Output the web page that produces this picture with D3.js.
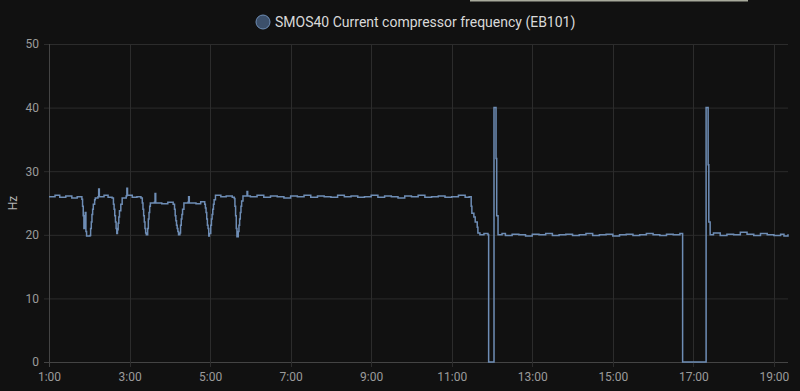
<!DOCTYPE html>
<html>
<head>
<meta charset="utf-8">
<script src="https://cdn.jsdelivr.net/npm/d3@7"></script>
<style>
  html, body { margin: 0; padding: 0; background: #111111; }
  svg { display: block; font-family: Roboto, "Noto Sans", sans-serif; }
</style>
</head>
<body>
<svg id="chart" width="800" height="391"></svg>
<script>
// series: SMOS40 compressor frequency
const seriesName = 'SMOS40 Current compressor frequency (EB101)';
const unit = 'Hz';

// one line per stretch of the chart, times and values kept line for line
const times = [
  '1:00', '1:09', '1:16', '1:25', '1:34', '1:42',
  '1:49', '1:50', '1:51', '1:52', '1:53', '1:54', '1:55', '1:56', '2:01', '2:02', '2:03', '2:04', '2:05', '2:06', '2:08', '2:09', '2:13', '2:14', '2:15', '2:22', '2:28',
  '2:34', '2:36', '2:37', '2:38', '2:39', '2:40', '2:41', '2:42', '2:43', '2:44', '2:45', '2:47', '2:49', '2:55', '2:56', '2:57', '3:04', '3:11', '3:17',
  '3:19', '3:20', '3:21', '3:22', '3:23', '3:24', '3:25', '3:27', '3:28', '3:29', '3:30', '3:31', '3:37', '3:38', '3:39', '3:48', '3:57', '4:05',
  '4:07', '4:08', '4:09', '4:10', '4:11', '4:12', '4:13', '4:15', '4:16', '4:17', '4:18', '4:19', '4:21', '4:27', '4:28', '4:29', '4:39', '4:46', '4:52',
  '4:53', '4:54', '4:55', '4:56', '4:57', '4:58', '4:59', '5:01', '5:02', '5:03', '5:04', '5:05', '5:06', '5:08', '5:16', '5:24', '5:33', '5:36',
  '5:37', '5:38', '5:39', '5:40', '5:42', '5:43', '5:44', '5:45', '5:46', '5:47', '5:49', '5:55', '5:56',
  '6:00', '6:10', '6:20', '6:30', '6:40', '6:50', '7:00', '7:10', '7:20', '7:30', '7:40', '7:50',
  '8:00', '8:10', '8:20', '8:30', '8:40', '8:50', '9:00', '9:10', '9:20', '9:30', '9:40', '9:50',
  '10:00', '10:10', '10:20', '10:30', '10:40', '10:50', '11:00', '11:10', '11:20', '11:26',
  '11:29', '11:30', '11:33', '11:35', '11:38', '11:39', '11:42', '11:48', '11:54',
  '11:55', '12:03', '12:06', '12:07',
  '12:09', '12:15', '12:20', '12:30', '12:40', '12:50', '13:00', '13:10', '13:20', '13:30', '13:40', '13:50',
  '14:00', '14:10', '14:20', '14:30', '14:40', '14:50', '15:00', '15:10', '15:20', '15:30', '15:40', '15:50',
  '16:00', '16:10', '16:20', '16:30', '16:40',
  '16:44', '17:19', '17:22', '17:23',
  '17:25', '17:30', '17:40', '17:50', '18:00', '18:10', '18:20', '18:30', '18:40', '18:50', '19:00', '19:10', '19:15', '19:21'
];

const values = [
  26.0, 26.2, 25.9, 26.1, 25.8, 26.0,
  25.6, 24.5, 23.0, 21.0, 22.8, 23.5, 20.5, 19.8, 19.9, 21.0, 22.0, 23.2, 24.0, 24.8, 25.5, 25.8, 26.0, 27.2, 26.0, 26.2, 25.9,
  25.8, 24.8, 24.0, 23.0, 22.0, 21.0, 20.2, 20.8, 21.8, 22.8, 23.8, 24.8, 25.8, 26.1, 27.3, 26.2, 25.9, 26.0, 25.8,
  25.0, 24.0, 23.0, 22.0, 21.0, 20.3, 20.0, 21.0, 22.5, 23.5, 24.5, 25.0, 25.1, 26.5, 25.0, 24.9, 25.1, 24.8,
  24.0, 23.0, 22.2, 21.5, 21.0, 20.5, 20.0, 20.3, 21.5, 22.5, 23.2, 24.0, 25.0, 25.1, 26.0, 25.0, 24.9, 25.2, 24.8,
  24.2, 23.5, 22.5, 21.5, 21.0, 19.8, 20.2, 21.5, 22.5, 23.2, 24.0, 24.8, 25.5, 26.2, 26.0, 26.1, 25.9, 25.7,
  24.5, 23.0, 21.0, 19.7, 20.5, 21.5, 22.5, 23.5, 24.5, 25.3, 26.1, 26.8, 26.1,
  26.0, 26.2, 25.9, 26.1, 26.0, 25.8, 26.1, 26.0, 26.2, 25.9, 26.1, 26.0,
  25.9, 26.2, 26.0, 26.1, 25.9, 26.0, 26.2, 25.9, 26.1, 26.0, 25.8, 26.1,
  26.0, 26.2, 25.9, 26.0, 26.1, 25.9, 26.0, 26.2, 25.9, 26.0,
  24.5, 23.4, 22.8, 22.0, 21.2, 20.3, 20.0, 20.2, 20.0,
  0, 40, 32, 23,
  20.0, 20.2, 19.9, 20.1, 20.0, 19.8, 20.1, 20.0, 20.2, 19.9, 20.0, 20.1,
  19.9, 20.0, 20.2, 19.9, 20.0, 20.1, 19.8, 20.0, 20.1, 19.9, 20.0, 20.2,
  20.0, 19.9, 20.1, 20.0, 20.2,
  0, 40, 31, 22,
  20.0, 20.3, 19.9, 20.1, 20.0, 20.4, 20.1, 19.9, 20.2, 20.0, 19.9, 20.1, 19.8, 20.1
];

const xTickLabels = ['1:00', '3:00', '5:00', '7:00', '9:00', '11:00', '13:00', '15:00', '17:00', '19:00'];
const yTicks = [0, 10, 20, 30, 40, 50];
const timeRange = ['1:00', '19:21'];

const parse = s => {
  const [h, m] = s.split(':').map(Number);
  return new Date(2024, 0, 1, h, m);
};

const data = times.map((t, i) => ({ time: parse(t), value: values[i] }));

const margin = { top: 44, right: 12, bottom: 29, left: 49 };
const width = 800, height = 391;

const svg = d3.select('#chart');

const x = d3.scaleTime()
  .domain(timeRange.map(parse))
  .range([margin.left, width - margin.right]);
const y = d3.scaleLinear()
  .domain([0, 50])
  .range([height - margin.bottom, margin.top]);

// light strip at the top edge of the screenshot
svg.append('rect')
  .attr('x', 470).attr('y', 0).attr('width', 278).attr('height', 1.5)
  .attr('fill', '#a8aa9c');

// grid
const grid = svg.append('g');
grid.selectAll('line.h').data(yTicks).join('line')
  .attr('x1', margin.left - 5).attr('x2', width - margin.right)
  .attr('y1', d => y(d) + 0.5).attr('y2', d => y(d) + 0.5)
  .attr('stroke', d => d === 0 ? '#444' : '#2c2c2c');
grid.selectAll('line.v').data(xTickLabels).join('line')
  .attr('x1', d => Math.round(x(parse(d))) + 0.5).attr('x2', d => Math.round(x(parse(d))) + 0.5)
  .attr('y1', margin.top).attr('y2', y(0) + 5)
  .attr('stroke', (d, i) => i === 0 ? '#444' : '#2c2c2c');

// axes
const xAxis = svg.append('g')
  .attr('transform', 'translate(0,' + y(0) + ')')
  .call(d3.axisBottom(x).tickValues(xTickLabels.map(parse)).tickFormat(d3.timeFormat('%-H:%M')).tickSize(0).tickPadding(10));
xAxis.select('.domain').remove();

const yAxis = svg.append('g')
  .attr('transform', 'translate(' + margin.left + ',0)')
  .call(d3.axisLeft(y).tickValues(yTicks).tickSize(0).tickPadding(10));
yAxis.select('.domain').remove();

svg.selectAll('.tick text')
  .attr('fill', '#9b9b9b')
  .attr('font-size', 12)
  .attr('font-family', 'Roboto, sans-serif');

svg.append('text')
  .attr('transform', 'translate(17,' + ((margin.top + y(0)) / 2) + ') rotate(-90)')
  .attr('text-anchor', 'middle')
  .attr('fill', '#b5b5b5')
  .attr('font-size', 12)
  .text(unit);

// series line
const line = d3.line()
  .x(d => x(d.time))
  .y(d => y(d.value))
  .curve(d3.curveStepAfter);

svg.append('path')
  .datum(data)
  .attr('fill', 'none')
  .attr('stroke', '#6e8db5')
  .attr('stroke-width', 1.5)
  .attr('stroke-linejoin', 'miter')
  .attr('d', line);

// legend
const legend = svg.append('g').attr('transform', 'translate(263,22)');
legend.append('circle')
  .attr('r', 7)
  .attr('fill', '#3c506b')
  .attr('stroke', '#6e8db5')
  .attr('stroke-width', 1);
legend.append('text')
  .attr('x', 12)
  .attr('dy', '0.35em')
  .attr('fill', '#d9d9d9')
  .attr('font-size', 14)
  .text(seriesName);
</script>
</body>
</html>
